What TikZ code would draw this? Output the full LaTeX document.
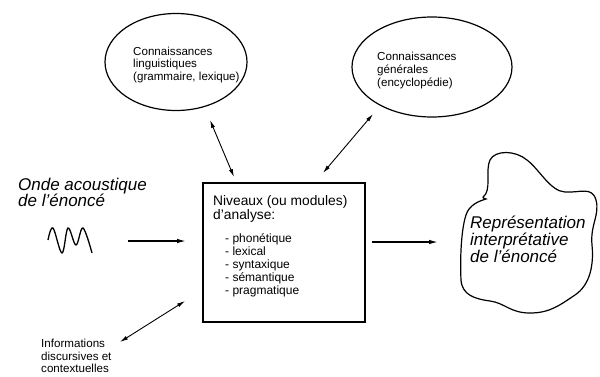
\documentclass[tikz,border=0pt]{standalone}
\usepackage{fontspec}
\setmainfont{Liberation Sans}
\usetikzlibrary{shapes.geometric}
\usetikzlibrary{arrows.meta}
\tikzset{
  knowledge/.style={draw,ellipse,line width=1.2pt,inner sep=0pt},
  module/.style={draw,rectangle,line width=1.5pt,inner sep=0pt},
  txt/.style={anchor=base west,inner sep=0pt,align=left,font=\fontsize{11.6}{12.7}\selectfont},
  bigtxt/.style={anchor=base west,inner sep=0pt,align=left,font=\fontsize{17}{16.5}\selectfont\itshape},
  flow/.style={line width=1.3pt,-{Latex[length=9pt,width=4.5pt]}},
  link/.style={line width=0.9pt,{Latex[length=8pt,width=4pt]}-{Latex[length=8pt,width=4pt]}},
}

\begin{document}
\begin{tikzpicture}[x=1pt,y=-1pt]
\clip (0,0) rectangle (600,376);
\node[knowledge,minimum width=142pt,minimum height=97pt] (ling) at (176,62) {};
\node[knowledge,minimum width=160pt,minimum height=100pt] (gen) at (432,67) {};
\node[module,minimum width=162pt,minimum height=139pt] (levels) at (284,252.5) {};
% base anchor sits on the last line
\node[txt,font=\fontsize{11.6}{12.5}\selectfont] (lingtxt) at (133,80) {Connaissances\\linguistiques\\(grammaire, lexique)};
\node[txt,font=\fontsize{11.6}{13}\selectfont] (gentxt) at (377,86) {Connaissances\\générales\\(encyclopédie)};
\node[txt,font=\fontsize{13.8}{14}\selectfont] (levelstxt) at (213,219) {Niveaux (ou modules)\\d'analyse:};
\node[txt,font=\fontsize{12}{13}\selectfont] (levelslist) at (225,294) {- phonétique\\- lexical\\- syntaxique\\- sémantique\\- pragmatique};
\node[bigtxt] (onde) at (18,206.5) {Onde acoustique\\de l'énoncé};
\node[bigtxt,font=\fontsize{17}{17}\selectfont\itshape] (repr) at (470,262) {Représentation\\interprétative\\de l'énoncé};
\node[txt,font=\fontsize{11.6}{12.5}\selectfont] (info) at (41,372.5) {Informations\\discursives et\\contextuelles};
\coordinate (waveout) at (128,241);
\coordinate (levelsin) at (186,241);
\coordinate (levelsout) at (372,242);
\coordinate (reprin) at (438,242);
\coordinate (linglow) at (210,120);
\coordinate (levelsl) at (234,177);
\coordinate (genlow) at (373,114);
\coordinate (levelsr) at (323,173);
\coordinate (infoup) at (120,342);
\coordinate (levelsd) at (185,301);
\draw[line width=1.3pt] plot[smooth,tension=0.6] coordinates {(48,240) (53,228) (62,253) (68,228) (76,245) (83,228) (92,253)};
\draw[line width=1.2pt] (483,197) .. controls (492,191) and (485,170) .. (490,160)
  .. controls (495,150) and (515,150) .. (527,160)
  .. controls (540,170) and (550,191) .. (565,192)
  .. controls (580,193) and (592,186) .. (596,200)
  .. controls (600,215) and (590,225) .. (592,245)
  .. controls (594,265) and (590,285) .. (575,295)
  .. controls (560,305) and (550,313) .. (530,313)
  .. controls (510,313) and (505,303) .. (490,301)
  .. controls (475,299) and (462,295) .. (461,280)
  .. controls (460,260) and (461,230) .. (466,215)
  .. controls (469,205) and (479,201) .. (486,199)
  .. controls (483,198) .. (483,197);
\draw[flow] (waveout) -- (levelsin);
\draw[flow] (levelsout) -- (reprin);
\draw[link] (linglow) -- (levelsl);
\draw[link] (genlow) -- (levelsr);
\draw[link] (infoup) -- (levelsd);
\end{tikzpicture}
\end{document}
